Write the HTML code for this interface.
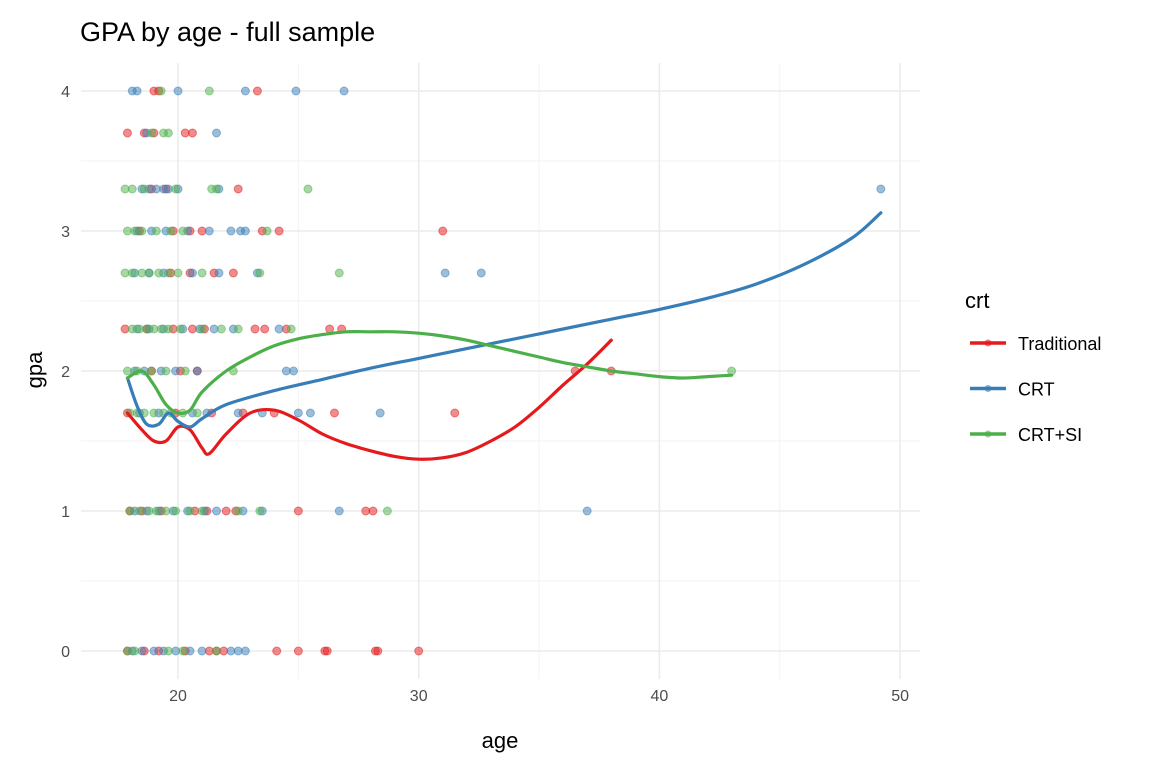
<!DOCTYPE html>
<html><head><meta charset="utf-8">
<style>
html,body{margin:0;padding:0;background:#fff;}
svg{display:block;font-family:"Liberation Sans",Arial,sans-serif;}
</style></head>
<body>
<svg id="chart" width="1152" height="768">
  <text x="80" y="41" font-size="27" fill="#000">GPA by age - full sample</text>
  <g id="grid"></g>
  <g id="points"></g>
  <g id="lines"></g>
  <g id="axes"></g>
  <text x="500" y="748" font-size="22" text-anchor="middle" fill="#000">age</text>
  <text transform="translate(42,370) rotate(-90)" font-size="22" text-anchor="middle" fill="#000">gpa</text>
  <g id="legend">
    <text x="965" y="308" font-size="22" fill="#000">crt</text>
  </g>
</svg>
<script>
const xTicks=[20,30,40,50];
const xMinor=[25,35,45];
const yTicks=[0,1,2,3,4];
const yMinor=[0.5,1.5,2.5,3.5];
const seriesNames=["Traditional","CRT","CRT+SI"];
const colors=["#E41A1C","#377EB8","#4DAF4A"];

const redPts=[[19,4],[19.2,4],[23.3,4],[17.9,3.7],[18.6,3.7],[19.0,3.7],[20.3,3.7],[20.6,3.7],[22.5,3.3],[18.9,3.3],[19.5,3.3],
[19.8,3],[20.5,3],[21.0,3],[23.5,3],[24.2,3],[31,3],[18.4,3],
[19.7,2.7],[20.5,2.7],[21.5,2.7],[22.3,2.7],
[17.8,2.3],[18.7,2.3],[19.8,2.3],[20.6,2.3],[21.1,2.3],[23.2,2.3],[23.6,2.3],[24.5,2.3],[26.3,2.3],[26.8,2.3],
[18.9,2],[20.1,2],[20.8,2],[36.5,2],[38,2],
[17.9,1.7],[19.9,1.7],[21.4,1.7],[22.7,1.7],[24,1.7],[26.5,1.7],[31.5,1.7],
[18.0,1],[18.5,1],[19.3,1],[20.7,1],[21.2,1],[22.0,1],[22.4,1],[25,1],[27.8,1],[28.1,1],
[17.9,0],[18.6,0],[19.2,0],[20.3,0],[21.3,0],[21.6,0],[21.9,0],[24.1,0],[25,0],[26.1,0],[26.2,0],[28.2,0],[28.3,0],[30,0]];
const bluePts=[[18.1,4],[18.3,4],[20,4],[22.8,4],[24.9,4],[26.9,4],[18.7,3.7],[21.6,3.7],
[18.5,3.3],[18.8,3.3],[19.1,3.3],[19.4,3.3],[19.6,3.3],[20.0,3.3],[21.7,3.3],[49.2,3.3],
[18.3,3],[18.9,3],[19.5,3],[20.4,3],[21.3,3],[22.2,3],[22.6,3],[22.8,3],
[18.2,2.7],[18.8,2.7],[19.4,2.7],[20.6,2.7],[21.7,2.7],[23.3,2.7],[31.1,2.7],[32.6,2.7],
[18.3,2.3],[18.8,2.3],[19.4,2.3],[20.2,2.3],[20.9,2.3],[21.5,2.3],[22.3,2.3],[24.2,2.3],
[18.2,2],[18.6,2],[19.3,2],[19.9,2],[20.8,2],[24.5,2],[24.8,2],
[18.4,1.7],[19.2,1.7],[20.6,1.7],[21.2,1.7],[22.5,1.7],[23.5,1.7],[25,1.7],[25.5,1.7],[28.4,1.7],
[18.2,1],[18.7,1],[19.2,1],[19.8,1],[20.4,1],[21.1,1],[21.6,1],[22.7,1],[23.5,1],[26.7,1],[37,1],
[18.1,0],[18.5,0],[19.0,0],[19.4,0],[19.9,0],[20.5,0],[21.0,0],[22.2,0],[22.5,0],[22.8,0]];
const greenPts=[[19.3,4],[21.3,4],[18.9,3.7],[19.4,3.7],[19.6,3.7],
[17.8,3.3],[18.1,3.3],[18.6,3.3],[19.9,3.3],[21.4,3.3],[21.6,3.3],[25.4,3.3],
[17.9,3],[18.2,3],[18.5,3],[19.1,3],[19.7,3],[20.2,3],[23.7,3],
[17.8,2.7],[18.1,2.7],[18.5,2.7],[18.8,2.7],[19.2,2.7],[19.6,2.7],[20.0,2.7],[21.0,2.7],[23.4,2.7],[26.7,2.7],
[18.1,2.3],[18.4,2.3],[18.7,2.3],[19.0,2.3],[19.3,2.3],[19.6,2.3],[20.1,2.3],[21.0,2.3],[21.8,2.3],[22.5,2.3],[24.7,2.3],
[17.9,2],[18.3,2],[18.9,2],[19.5,2],[20.3,2],[22.3,2],[43,2],
[18.0,1.7],[18.3,1.7],[18.6,1.7],[19.0,1.7],[19.4,1.7],[19.7,1.7],[20.2,1.7],[20.8,1.7],
[18.0,1],[18.4,1],[18.8,1],[19.1,1],[19.5,1],[19.9,1],[20.5,1],[21.0,1],[22.5,1],[23.4,1],[28.7,1],
[17.9,0],[18.2,0],[19.6,0],[20.2,0],[21.6,0]];

const redAge=[17.9,18.5,19,19.5,20,20.5,21,21.3,22,23,24,25,26,27,28,29,30,31,32,33,34,35,36,37,38];
const redFit=[1.7,1.58,1.5,1.5,1.6,1.58,1.45,1.41,1.55,1.7,1.72,1.65,1.55,1.48,1.43,1.39,1.37,1.38,1.42,1.5,1.6,1.74,1.9,2.05,2.22];
const blueAge=[17.9,18.3,18.7,19.2,19.6,20,20.5,21,22,24,26,28,30,32,34,36,38,40,42,44,46,48,49.2];
const blueFit=[1.95,1.75,1.62,1.62,1.7,1.64,1.6,1.66,1.76,1.86,1.94,2.02,2.09,2.16,2.23,2.3,2.37,2.44,2.52,2.62,2.76,2.95,3.13];
const greenAge=[17.9,18.5,19,19.5,20,20.5,21,22,23,24,25,26,27,28,29,30,31,32,33,34,35,36,37,38,39,40,41,42,43];
const greenFit=[1.95,2.0,1.9,1.76,1.7,1.72,1.85,2.0,2.1,2.18,2.23,2.26,2.28,2.28,2.28,2.27,2.25,2.22,2.18,2.14,2.1,2.06,2.03,2.0,1.98,1.96,1.95,1.96,1.97];

const X0=81,X1=920,Y0=63,Y1=679;
function xs(v){return 178+(v-20)*24.07;}
function ys(v){return 651-v*140;}
const NS="http://www.w3.org/2000/svg";
function mk(tag,attrs,parent){const e=document.createElementNS(NS,tag);for(const k in attrs)e.setAttribute(k,attrs[k]);parent.appendChild(e);return e;}
const grid=document.getElementById('grid');
xMinor.forEach(v=>{const l=mk('line',{x1:xs(v),x2:xs(v),y1:Y0,y2:Y1,stroke:'#f3f3f3','stroke-width':1},grid);

});
yMinor.forEach(v=>{const l=mk('line',{x1:X0,x2:X1,y1:ys(v),y2:ys(v),stroke:'#f3f3f3','stroke-width':1},grid);

});
const axes=document.getElementById('axes');
xTicks.forEach(v=>{const l=mk('line',{x1:xs(v),x2:xs(v),y1:Y0,y2:Y1,stroke:'#ebebeb','stroke-width':1.5},grid);


const t=mk('text',{x:xs(v),y:701,'font-size':16,'text-anchor':'middle',fill:'#4d4d4d'},axes);t.textContent=v;

});
yTicks.forEach(v=>{const l=mk('line',{x1:X0,x2:X1,y1:ys(v),y2:ys(v),stroke:'#ebebeb','stroke-width':1.5},grid);


const t=mk('text',{x:70,y:ys(v)+6,'font-size':16,'text-anchor':'end',fill:'#4d4d4d'},axes);t.textContent=v;

});
const pg=document.getElementById('points');
[redPts,bluePts,greenPts].forEach((pts,i)=>{pts.forEach(p=>{const c=mk('circle',{cx:xs(p[0]),cy:ys(p[1]),r:4,fill:colors[i],'fill-opacity':0.5,stroke:colors[i],'stroke-opacity':0.5},pg);

});});
const lg=document.getElementById('lines');
[[redAge,redFit],[blueAge,blueFit],[greenAge,greenFit]].forEach((s,i)=>{
 const pts=s[0].map((a,j)=>[xs(a),ys(s[1][j])]);
 let d='M'+pts[0][0]+','+pts[0][1];
 for(let j=0;j<pts.length-1;j++){const p0=pts[Math.max(0,j-1)],p1=pts[j],p2=pts[j+1],p3=pts[Math.min(pts.length-1,j+2)];
  d+=' C'+(p1[0]+(p2[0]-p0[0])/6)+','+(p1[1]+(p2[1]-p0[1])/6)+' '+(p2[0]-(p3[0]-p1[0])/6)+','+(p2[1]-(p3[1]-p1[1])/6)+' '+p2[0]+','+p2[1];}
 const path=mk('path',{d:d,fill:'none',stroke:colors[i],'stroke-width':3.2,'stroke-linecap':'round'},lg);
 
 
});
const leg=document.getElementById('legend');
seriesNames.forEach((n,i)=>{const y=343+i*45.5;
 const g=mk('g',{},leg);
 
 
 mk('line',{x1:970,x2:1006,y1:y,y2:y,stroke:colors[i],'stroke-width':3.5},g);
 mk('circle',{cx:988,cy:y,r:3.5,fill:colors[i],'fill-opacity':0.6},g);
 const t=mk('text',{x:1018,y:y+7,'font-size':18,fill:'#000'},g);t.textContent=n;});
</script>
</body></html>
